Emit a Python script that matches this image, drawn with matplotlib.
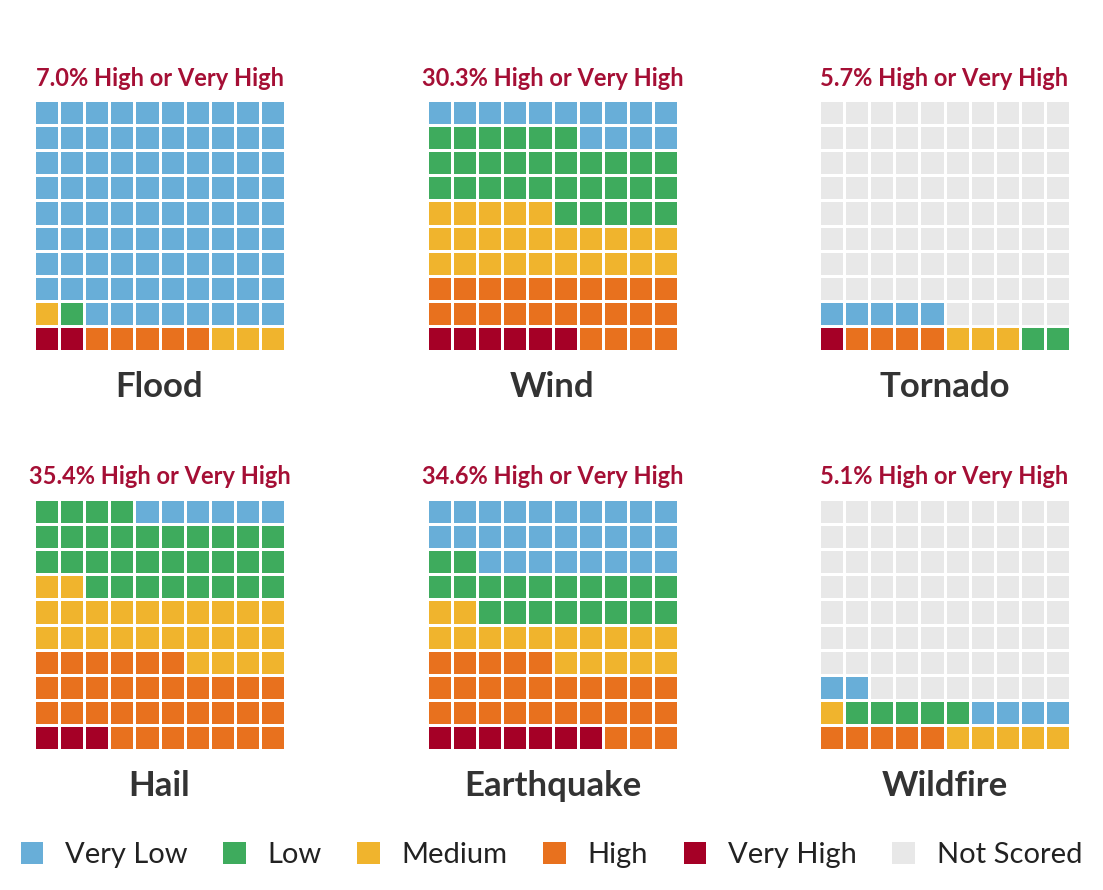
import numpy as np
import matplotlib
matplotlib.use("Agg")
import matplotlib.pyplot as plt
from matplotlib.colors import ListedColormap
from matplotlib.patches import Patch

plt.rcParams['font.family'] = ['Lato', 'DejaVu Sans']

# ---- data ----
hazards = ["Flood", "Wind", "Tornado", "Hail", "Earthquake", "Wildfire"]
pct_high = [7.0, 30.3, 5.7, 35.4, 34.6, 5.1]
# counts per 100 cells, order: Very High, High, Medium, Low, Very Low, Not Scored
very_high = [2, 6, 1, 3, 7, 0]
high = [5, 24, 4, 33, 28, 5]
medium = [4, 25, 3, 26, 17, 6]
low = [1, 31, 2, 32, 20, 5]
very_low = [88, 14, 5, 6, 28, 6]
not_scored = [0, 0, 85, 0, 0, 78]

legend_labels = ["Very Low", "Low", "Medium", "High", "Very High", "Not Scored"]
fill_order = ["Very High", "High", "Medium", "Low", "Very Low", "Not Scored"]
colors = {
    "Very Low": "#68AED8",
    "Low": "#3EAB5D",
    "Medium": "#F0B42D",
    "High": "#E8711E",
    "Very High": "#A50026",
    "Not Scored": "#E8E8E8",
}

W, H = 1103, 890
fig = plt.figure(figsize=(W / 100, H / 100), dpi=100)

cmap = ListedColormap([colors[k] for k in fill_order])

lefts = [34, 427, 819]
tops = [100, 499]
size = 251

for i, name in enumerate(hazards):
    r, c = divmod(i, 3)
    x0, y0 = lefts[c], tops[r]
    ax = fig.add_axes([x0 / W, 1 - (y0 + size) / H, size / W, size / H])
    counts = [very_high[i], high[i], medium[i], low[i], very_low[i], not_scored[i]]
    cats = np.repeat(np.arange(6), counts)[:100]
    grid = cats.reshape(10, 10)
    ax.pcolormesh(grid, cmap=cmap, vmin=-0.5, vmax=5.5,
                  edgecolors="white", linewidth=0.8)
    ax.set_xlim(0, 10)
    ax.set_ylim(0, 10)
    ax.set_axis_off()
    cx = (x0 + size / 2) / W
    fig.text(cx, 1 - (y0 - 22) / H, f"{pct_high[i]:.1f}% High or Very High",
             ha="center", va="center", fontsize=17, fontweight="bold",
             color="#A50F35")
    fig.text(cx, 1 - (y0 + size + 36) / H, name, ha="center", va="center",
             fontsize=25, fontweight="bold", color="#333333")

handles = [Patch(facecolor=colors[k], edgecolor="none") for k in legend_labels]
fig.legend(handles, legend_labels, loc="center", bbox_to_anchor=(0.5, 1 - 855 / H),
           ncol=6, frameon=False, fontsize=21, handlelength=0.78, handleheight=0.78,
           handletextpad=0.74, columnspacing=1.22, labelcolor="#222222")

fig.savefig("out.png", dpi=100, facecolor="white")
